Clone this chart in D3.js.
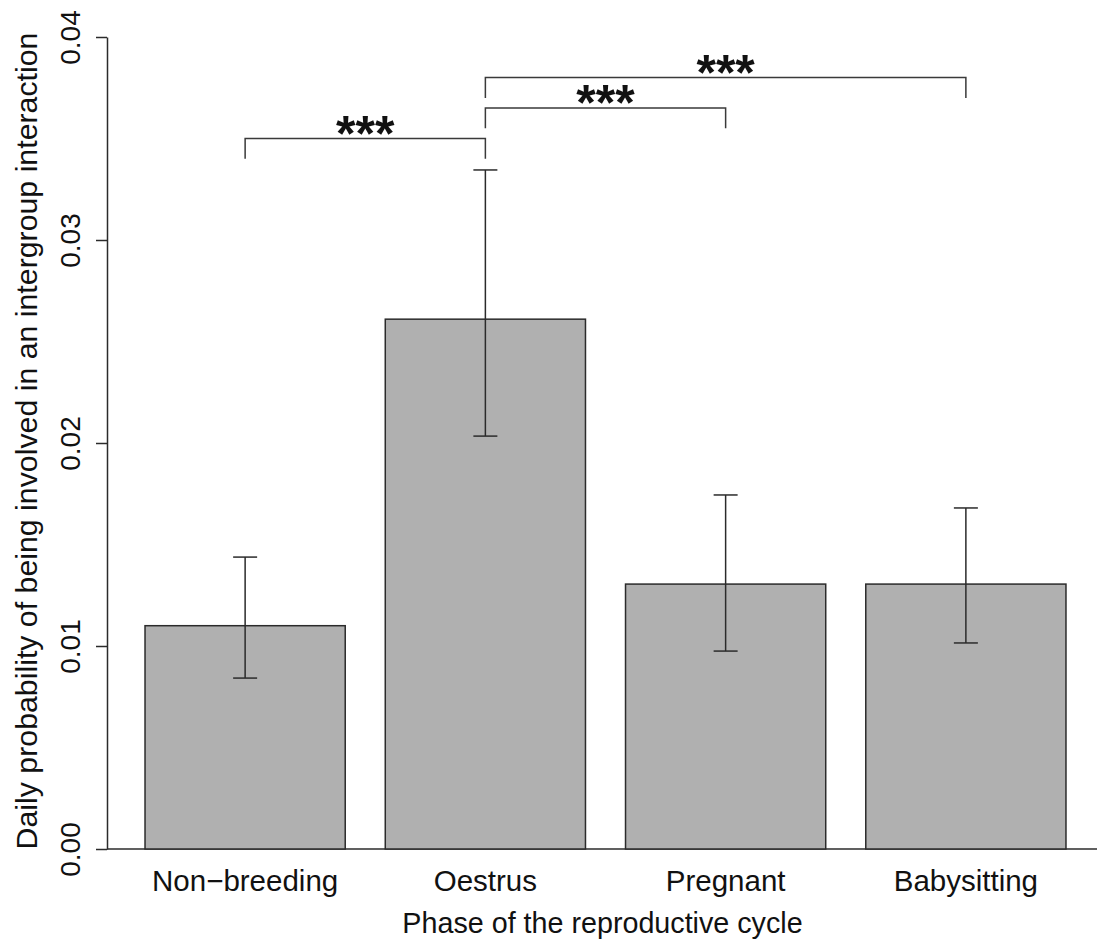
<!DOCTYPE html>
<html>
<head>
<meta charset="utf-8">
<script src="https://cdn.jsdelivr.net/npm/d3@7"></script>
<style>
  html, body { margin: 0; padding: 0; background: #fff; }
  svg { display: block; }
  text { font-family: "Liberation Sans", Arial, Helvetica, sans-serif; fill: #111; }
</style>
</head>
<body>
<svg id="chart" width="1097" height="943"></svg>
<script>
// Reproductive phases and mean daily probability of an intergroup interaction
const phases = ["Non\u2212breeding", "Oestrus", "Pregnant", "Babysitting"];
const meanProb = [0.0110, 0.0261, 0.01305, 0.01305];
const lowerCI = [0.00842, 0.02034, 0.00975, 0.01015];
const upperCI = [0.01438, 0.03345, 0.01744, 0.0168];

// Pairwise comparisons (indices into phases), bracket height and label
const pairFrom = [0, 1, 1];
const pairTo = [1, 2, 3];
const pairLevel = [0.035, 0.0365, 0.038];
const pairLabel = ["***", "***", "***"];

const yTicks = [0.00, 0.01, 0.02, 0.03, 0.04];

const svg = d3.select("#chart");
const W = 1097;

const y = d3.scaleLinear().domain([0, 0.04]).range([849, 37]);
const x = d3.scaleBand().domain(phases).range([125, 1086]).paddingInner(1 / 6).paddingOuter(1 / 12);

const ink = "#2b2b2b";

// Baseline under the bars
svg.append("line")
  .attr("x1", 107).attr("x2", W)
  .attr("y1", y(0)).attr("y2", y(0))
  .attr("stroke", ink).attr("stroke-width", 1.5);

// Bars
svg.append("g").selectAll("rect")
  .data(phases)
  .join("rect")
  .attr("x", d => x(d))
  .attr("width", x.bandwidth())
  .attr("y", (d, i) => y(meanProb[i]))
  .attr("height", (d, i) => y(0) - y(meanProb[i]))
  .attr("fill", "#b0b0b0")
  .attr("stroke", ink)
  .attr("stroke-width", 1.5);

// Error bars
const cap = 12;
const eb = svg.append("g").attr("stroke", ink).attr("stroke-width", 1.5);
phases.forEach((p, i) => {
  const cx = x(p) + x.bandwidth() / 2;
  eb.append("line").attr("x1", cx).attr("x2", cx).attr("y1", y(lowerCI[i])).attr("y2", y(upperCI[i]));
  eb.append("line").attr("x1", cx - cap).attr("x2", cx + cap).attr("y1", y(upperCI[i])).attr("y2", y(upperCI[i]));
  eb.append("line").attr("x1", cx - cap).attr("x2", cx + cap).attr("y1", y(lowerCI[i])).attr("y2", y(lowerCI[i]));
});

// Y axis
const yAxis = d3.axisLeft(y).tickValues(yTicks).tickFormat(d3.format(".2f")).tickSize(11).tickSizeOuter(0);
const gy = svg.append("g").attr("transform", "translate(107,0)").call(yAxis);
gy.select(".domain").attr("stroke", ink).attr("stroke-width", 1.5);
gy.selectAll(".tick line").attr("stroke", ink).attr("stroke-width", 1.5);
gy.selectAll(".tick text")
  .attr("font-size", 28)
  .attr("font-family", "Liberation Sans, Arial, sans-serif")
  .attr("fill", "#111")
  .attr("text-anchor", "middle")
  .attr("x", 0).attr("y", 0).attr("dy", null)
  .attr("transform", "translate(-27,0) rotate(-90)");

// Category labels
svg.append("g").selectAll("text")
  .data(phases)
  .join("text")
  .attr("x", d => x(d) + x.bandwidth() / 2)
  .attr("y", 891)
  .attr("text-anchor", "middle")
  .attr("font-size", 29.5)
  .text(d => d);

// Axis titles
svg.append("text")
  .attr("x", (x.range()[0] + x.range()[1]) / 2 - 3)
  .attr("y", 933)
  .attr("text-anchor", "middle")
  .attr("font-size", 28.7)
  .text("Phase of the reproductive cycle");

svg.append("text")
  .attr("transform", `translate(37,${(y(0) + y(0.04)) / 2 - 2}) rotate(-90)`)
  .attr("text-anchor", "middle")
  .attr("font-size", 30.3)
  .text("Daily probability of being involved in an intergroup interaction");

// Significance brackets
const drop = 0.001;
const br = svg.append("g");
pairFrom.forEach((a, k) => {
  const x1 = x(phases[a]) + x.bandwidth() / 2;
  const x2 = x(phases[pairTo[k]]) + x.bandwidth() / 2;
  const yl = y(pairLevel[k]);
  const ye = y(pairLevel[k] - drop);
  br.append("path")
    .attr("d", `M${x1},${ye}V${yl}H${x2}V${ye}`)
    .attr("fill", "none")
    .attr("stroke", "#3a3a3a")
    .attr("stroke-width", 1.5);
  br.append("text")
    .attr("x", (x1 + x2) / 2)
    .attr("y", yl + 12)
    .attr("text-anchor", "middle")
    .attr("font-size", 50)
    .attr("font-weight", "bold")
    .text(pairLabel[k]);
});
</script>
</body>
</html>
